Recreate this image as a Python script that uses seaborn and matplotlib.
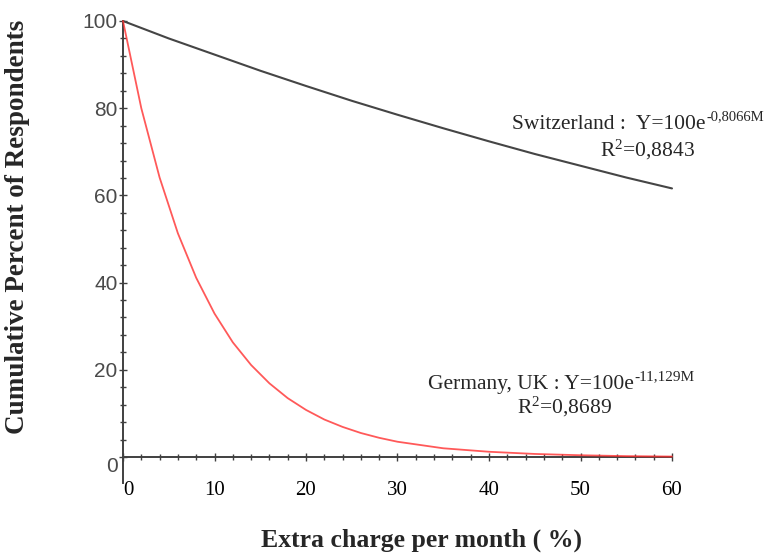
import numpy as np
import pandas as pd
import seaborn as sns
import matplotlib.pyplot as plt

# values (extra charge in %, cumulative % of respondents)
swiss_x = [0, 5, 10, 15, 20, 25, 30, 35, 40, 45, 50, 55, 60]
swiss_y = [100, 96.0, 92.3, 88.6, 85.1, 81.7, 78.5, 75.4, 72.4, 69.5, 66.8, 64.1, 61.6]

germany_x = [0, 2, 4, 6, 8, 10, 12, 14, 16, 18, 20, 22, 24, 26, 28, 30,
             35, 40, 45, 50, 55, 60]
germany_y = [100, 80.0, 64.1, 51.3, 41.1, 32.9, 26.3, 21.1, 16.9, 13.5, 10.8,
             8.6, 6.9, 5.5, 4.4, 3.5, 2.0, 1.2, 0.7, 0.4, 0.2, 0.1]

swiss_label = 'Switzerland :  Y=100e'
swiss_exp = '-0,8066M'
swiss_r2 = 'R$^{\\mathrm{2}}$=0,8843'
germany_label = 'Germany, UK : Y=100e'
germany_exp = '-11,129M'
germany_r2 = 'R$^{\\mathrm{2}}$=0,8689'

x_title = 'Extra charge per month ( %)'
y_title = 'Cumulative Percent of Respondents'

df = pd.concat([
    pd.DataFrame({'charge': swiss_x, 'pct': swiss_y, 'country': 'Switzerland'}),
    pd.DataFrame({'charge': germany_x, 'pct': germany_y, 'country': 'Germany, UK'}),
])

sns.set_style('white')
plt.rcParams['font.family'] = ['Liberation Serif', 'DejaVu Serif']
plt.rcParams['mathtext.fontset'] = 'custom'
plt.rcParams['mathtext.rm'] = 'Liberation Serif'
plt.rcParams['mathtext.it'] = 'Liberation Serif:italic'

W, H = 781, 556
fig = plt.figure(figsize=(W / 100, H / 100), dpi=100)

# pixel mapping: x 0 -> 123px, 60 -> 672px; y 0 -> 457px, 100 -> 21px
sx = (672 - 123) / 60
sy = (457 - 21) / 100
xlo, xhi = -2, 66
ylo, yhi = -8, 102
left = 123 + xlo * sx
bottom = (H - 457) + ylo * sy
ax = fig.add_axes([left / W, bottom / H, (xhi - xlo) * sx / W, (yhi - ylo) * sy / H])

sns.lineplot(data=df, x='charge', y='pct', hue='country',
             palette={'Switzerland': '#454545', 'Germany, UK': '#ff3030'},
             linewidth=1.5, legend=False, ax=ax, zorder=3)
for ln in ax.lines:
    if ln.get_color() == '#ff3030':
        ln.set_alpha(0.8)
        ln.set_linewidth(1.3)

ax.set_xlim(xlo, xhi)
ax.set_ylim(ylo, yhi)

for s in ['top', 'right']:
    ax.spines[s].set_visible(False)
ax.spines['left'].set_position(('data', 0))
ax.spines['bottom'].set_position(('data', 0))
ax.spines['left'].set_bounds(-6, 100)
ax.spines['bottom'].set_bounds(0, 60)
for s in ['left', 'bottom']:
    ax.spines[s].set_color('#404040')
    ax.spines[s].set_linewidth(1.4)

ax.set_xticks(range(0, 61, 10))
ax.set_yticks(range(0, 101, 20))
ax.set_xticks(np.arange(0, 61, 2), minor=True)
ax.set_yticks(np.arange(0, 101, 4), minor=True)

ax.tick_params(which='both', bottom=True, left=True, direction='inout',
               color='#404040', width=1)
ax.tick_params(which='major', length=6)
ax.tick_params(which='minor', length=5)
ax.tick_params(axis='x', labelsize=15, pad=14, labelcolor='black')
ax.tick_params(axis='y', labelsize=15, pad=1, labelcolor='#4a4a4a')
for lab in ax.get_yticklabels():
    lab.set_family(['Liberation Sans', 'DejaVu Sans'])
ax.get_yticklabels()[0].set_va('top')
ax.get_xticklabels()[0].set_ha('left')

ax.set_xlabel('')
ax.set_ylabel('')
fig.text(421 / W, 1 - 540 / H, x_title, ha='center', va='center',
         fontsize=18.5, fontweight='bold')
fig.text(18 / W, 1 - 227 / H, y_title, ha='center', va='center',
         rotation=90, fontsize=19.5, fontweight='bold')


def label_with_exp(x, y, base, exp, size=15.5, exp_size=10.5):
    t = ax.text(x, y, base, fontsize=size, va='baseline', ha='left', clip_on=False)
    fig.canvas.draw()
    bb = t.get_window_extent()
    x0 = ax.transData.transform((x, y))[0]
    dx = (bb.x1 - x0) * 72 / fig.dpi + 0.5
    ax.annotate(exp, xy=(x, y), xycoords='data', xytext=(dx, size * 0.42),
                textcoords='offset points', fontsize=exp_size,
                va='baseline', ha='left', annotation_clip=False)


label_with_exp(42.5, 75.2, swiss_label, swiss_exp)
ax.text(52.1, 69.0, swiss_r2, fontsize=15.5, va='baseline', ha='left', clip_on=False)
label_with_exp(33.3, 15.6, germany_label, germany_exp, exp_size=11)
ax.text(43.1, 9.9, germany_r2, fontsize=15.5, va='baseline', ha='left', clip_on=False)

fig.savefig('out.png', dpi=100)
